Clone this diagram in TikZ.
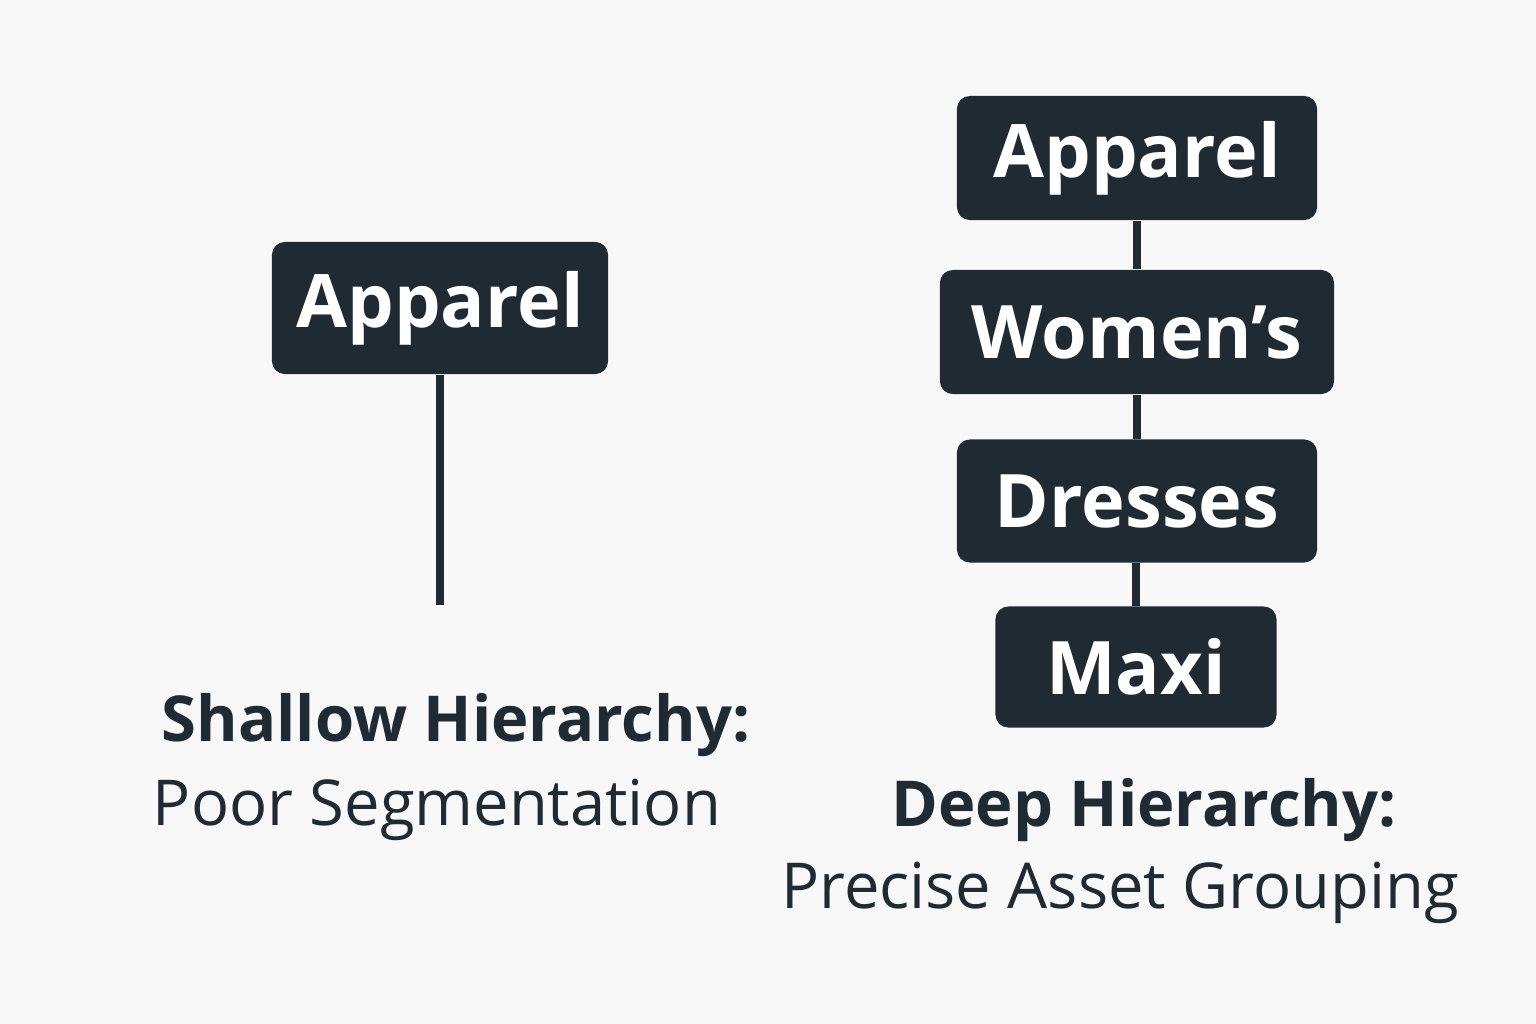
\documentclass[tikz,border=0pt]{standalone}
\usepackage{fontspec}
\setmainfont{Open Sans}
\usetikzlibrary{positioning}
\definecolor{boxfill}{HTML}{1F2A33}
\definecolor{paper}{HTML}{F8F8F8}
\tikzset{
  catbox/.style={fill=boxfill, rounded corners=0.13cm, text=white,
    font=\fontsize{21}{24}\selectfont\bfseries, inner sep=0pt},
  link/.style={draw=boxfill, line width=2.3pt},
  caption/.style={text=boxfill, font=\fontsize{18}{22}\selectfont}
}
\begin{document}
\begin{tikzpicture}[x=0.01cm,y=-0.01cm]
  \fill[paper] (0,0) rectangle (1536,1024);
  \useasboundingbox (0,0) rectangle (1536,1024);

  % shallow side
  \node[catbox, minimum width=3.36cm, minimum height=1.32cm] (sapp) at (440,308) {Apparel};
  \coordinate (send) at (440,605);
  \draw[link] (sapp) -- (send);
  \node[caption, font=\fontsize{18}{22}\selectfont\bfseries] (shead) at (456,725) {Shallow Hierarchy:};
  \node[caption] (ssub) at (437,810) {Poor Segmentation};

  % deep side
  \node[catbox, minimum width=3.60cm, minimum height=1.24cm] (dapp) at (1137,158) {Apparel};
  \node[catbox, minimum width=3.94cm, minimum height=1.24cm] (dwom) at (1137,332) {Women’s};
  \node[catbox, minimum width=3.60cm, minimum height=1.23cm] (ddre) at (1137,501) {Dresses};
  \node[catbox, minimum width=2.81cm, minimum height=1.21cm] (dmax) at (1136,667) {Maxi};
  \draw[link] (dapp) -- (dwom);
  \draw[link] (dwom) -- (ddre);
  \draw[link] (ddre.south -| dmax) -- (dmax);
  \node[caption, font=\fontsize{18}{22}\selectfont\bfseries] (dhead) at (1144,810) {Deep Hierarchy:};
  \node[caption] (dsub) at (1120,893) {Precise Asset Grouping};
\end{tikzpicture}
\end{document}
